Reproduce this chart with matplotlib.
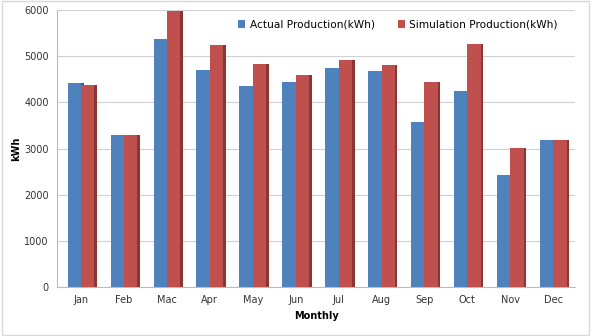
import numpy as np
import matplotlib.pyplot as plt
from matplotlib.patches import Rectangle

months = ['Jan', 'Feb', 'Mac', 'Apr', 'May', 'Jun', 'Jul', 'Aug', 'Sep', 'Oct', 'Nov', 'Dec']
actual = [4420, 3290, 5380, 4710, 4350, 4440, 4740, 4670, 3580, 4240, 2430, 3190]
simulation = [4370, 3290, 5990, 5250, 4840, 4590, 4910, 4820, 4440, 5260, 3020, 3190]

blue = '#4F81BD'
red = '#C0504D'

fig = plt.figure(figsize=(5.93, 3.36), dpi=100)
ax = fig.add_axes([0.096, 0.146, 0.874, 0.824])

x = np.arange(len(months))
w = 0.31
side = 0.06

# darker side faces for a bit of depth
ax.bar(x - w / 2 + side, actual, w, color='#3A5F8C', zorder=2)
ax.bar(x + w / 2 + side, simulation, w, color='#8C3634', zorder=2)
ax.bar(x - w / 2, actual, w, color=blue, zorder=3, label='Actual Production(kWh)')
ax.bar(x + w / 2, simulation, w, color=red, zorder=4, label='Simulation Production(kWh)')

ax.set_ylim(0, 6000)
ax.set_xlim(-0.56, len(months) - 0.49)
ax.set_yticks(range(0, 6001, 1000))
ax.set_xticks(x)
ax.set_xticklabels(months)
ax.grid(axis='y', color='#D0D0D0', linewidth=0.8, zorder=0)
ax.tick_params(axis='both', labelsize=7, colors='#333333', length=0, pad=6)
for s in ['top', 'right']:
    ax.spines[s].set_visible(False)
ax.spines['left'].set_color('#BBBBBB')
ax.spines['bottom'].set_color('#BBBBBB')

ax.set_ylabel('kWh', fontsize=7, fontweight='bold')
ax.yaxis.set_label_coords(-0.07, 0.5)
ax.set_xlabel('Monthly', fontsize=7, fontweight='bold', labelpad=4)

ax.legend(loc='upper right', bbox_to_anchor=(0.985, 1.0), ncol=2, frameon=False,
          fontsize=7.6, handlelength=0.7, handleheight=0.7, handletextpad=0.4,
          columnspacing=2.2)

fig.patches.append(Rectangle((0.003, 0.003), 0.99, 0.994, transform=fig.transFigure,
                             fill=False, edgecolor='#D8D8D8', linewidth=1))

fig.savefig('out.png', dpi=100)
